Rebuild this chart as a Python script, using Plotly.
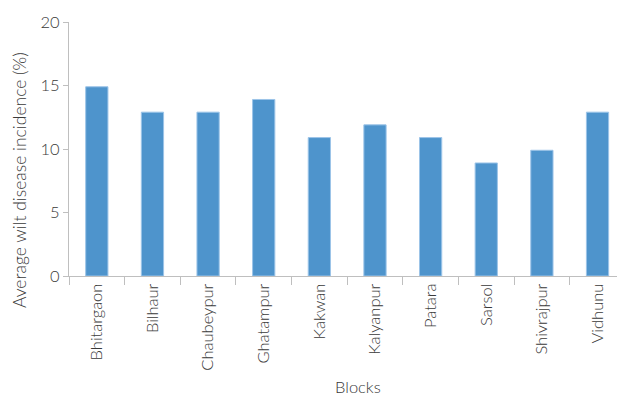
import plotly.graph_objects as go

blocks = ["Bhitargaon", "Bilhaur", "Chaubeypur", "Ghatampur", "Kakwan",
          "Kalyanpur", "Patara", "Sarsol", "Shivrajpur", "Vidhunu"]
incidence = [14.9, 12.9, 12.9, 13.9, 10.9, 11.9, 10.9, 8.9, 9.9, 12.9]
y_ticks = [0, 5, 10, 15, 20]

font_family = "Lato, 'Open Sans', sans-serif"
text_color = "#3A3A3A"
axis_color = "#BFBFBF"

fig = go.Figure(go.Bar(
    x=blocks, y=incidence, width=0.4,
    marker=dict(color="#4E94CC", line=dict(color="#9CC4E8", width=1)),
))

fig.update_layout(
    width=617, height=397,
    margin=dict(l=69, r=0, t=22, b=121),
    paper_bgcolor="white", plot_bgcolor="white",
    font=dict(family=font_family, size=16, color=text_color, weight=300),
    showlegend=False,
    bargap=0.6,
)
fig.update_xaxes(
    type="category", range=[-0.5, 9.35],
    showline=True, linecolor=axis_color, linewidth=1,
    ticks="outside", tickson="boundaries", ticklen=8, tickcolor=axis_color,
    tickangle=-90, tickfont=dict(size=16.5, color=text_color, weight=300),
    showgrid=False,
)
fig.update_yaxes(
    range=[0, 20], tickvals=y_ticks,
    showline=True, linecolor=axis_color, linewidth=1,
    ticks="outside", ticklen=5, tickcolor=axis_color,
    tickfont=dict(size=16.5, color=text_color, weight=300),
    showgrid=False, zeroline=False,
)
fig.add_annotation(
    text="Average wilt disease incidence (%)", xref="paper", yref="paper",
    x=-(69 - 19) / 548, y=(276 - 180) / 254, textangle=-90,
    xanchor="center", yanchor="middle", showarrow=False,
    font=dict(size=17.5, color=text_color, weight=300),
)
fig.add_annotation(
    text="Blocks", xref="paper", yref="paper",
    x=(358 - 69) / 548, y=-(387 - 276) / 254,
    xanchor="center", yanchor="middle", showarrow=False,
    font=dict(size=16.5, color=text_color, weight=300),
)

fig.write_html("out.html")
